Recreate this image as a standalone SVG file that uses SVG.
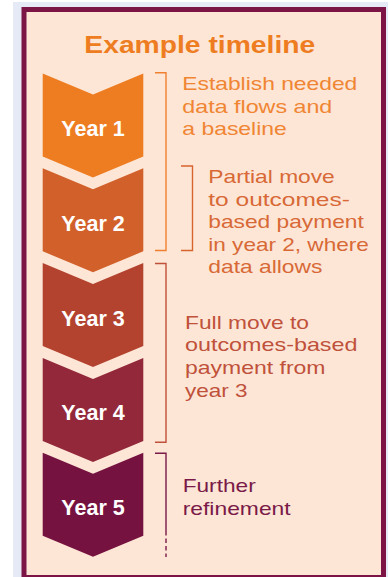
<svg xmlns="http://www.w3.org/2000/svg" width="388" height="577" viewBox="0 0 388 577">
  <defs>
    <style>
      .yr { font-family: "Liberation Sans", Arial, sans-serif; font-weight: bold; font-size: 21.5px; fill: #ffffff; text-anchor: middle; }
      .title { font-family: "Liberation Sans", Arial, sans-serif; font-weight: bold; font-size: 24.5px; fill: #ee7d22; }
      .note { font-family: "Liberation Sans", Arial, sans-serif; font-size: 18.5px; }
      .br { fill: none; stroke-width: 1.4; }
    </style>
    <!-- chevron shape, top corners at y=0 -->
    <path id="chev" d="M42.7,0 L93,21 L143.3,0 L143.3,83 L93,104 L42.7,83 Z"/>
  </defs>

  <!-- page background -->
  <rect x="0" y="0" width="388" height="577" fill="#ffffff"/>
  <rect x="13" y="2" width="375" height="575" fill="#e6eaf6"/>

  <!-- panel -->
  <rect x="24" y="9.5" width="359.5" height="568" fill="#fde6d6" stroke="#7d1446" stroke-width="5"/>

  <text class="title" x="84.3" y="52.7" textLength="231" lengthAdjust="spacingAndGlyphs">Example timeline</text>

  <!-- year chevrons -->
  <g id="year1">
    <use href="#chev" y="73.5" fill="#ee7d22"/>
    <text class="yr" x="93" y="136">Year 1</text>
  </g>
  <g id="year2">
    <use href="#chev" y="168.3" fill="#d2602a"/>
    <text class="yr" x="93" y="230.8">Year 2</text>
  </g>
  <g id="year3">
    <use href="#chev" y="263.1" fill="#b3422f"/>
    <text class="yr" x="93" y="325.6">Year 3</text>
  </g>
  <g id="year4">
    <use href="#chev" y="357.9" fill="#93283a"/>
    <text class="yr" x="93" y="420.4">Year 4</text>
  </g>
  <g id="year5">
    <use href="#chev" y="452.7" fill="#76123f"/>
    <text class="yr" x="93" y="515.2">Year 5</text>
  </g>

  <!-- brackets spanning the years each note applies to -->
  <g id="brackets">
    <path class="br" stroke="#f08030" d="M155,72.7 H166 V250.5 H155"/>
    <path class="br" stroke="#d6642e" d="M181,166 H192.5 V250.5 H181"/>
    <path class="br" stroke="#c0503a" d="M155,263.5 H166 V442.3 H155"/>
    <path class="br" stroke="#7a1a48" d="M155,453.3 H166 V531"/>
    <path class="br" stroke="#7a1a48" stroke-dasharray="4.5 3" d="M166,531 V557"/>
  </g>

  <!-- notes -->
  <g id="note1" class="note" fill="#f08534">
    <text x="182.3" y="90" textLength="175" lengthAdjust="spacingAndGlyphs">Establish needed</text>
    <text x="182.3" y="112.5" textLength="150" lengthAdjust="spacingAndGlyphs">data flows and</text>
    <text x="182.3" y="135" textLength="104.5" lengthAdjust="spacingAndGlyphs">a baseline</text>
  </g>
  <g id="note2" class="note" fill="#d86936">
    <text x="208.3" y="183.3" textLength="126.5" lengthAdjust="spacingAndGlyphs">Partial move</text>
    <text x="208.3" y="205.5" textLength="141.5" lengthAdjust="spacingAndGlyphs">to outcomes-</text>
    <text x="208.3" y="228" textLength="155.5" lengthAdjust="spacingAndGlyphs">based payment</text>
    <text x="208.3" y="250.5" textLength="160.5" lengthAdjust="spacingAndGlyphs">in year 2, where</text>
    <text x="208.3" y="273" textLength="114" lengthAdjust="spacingAndGlyphs">data allows</text>
  </g>
  <g id="note3" class="note" fill="#c0513b">
    <text x="185" y="328.5" textLength="124" lengthAdjust="spacingAndGlyphs">Full move to</text>
    <text x="185" y="351.2" textLength="172.5" lengthAdjust="spacingAndGlyphs">outcomes-based</text>
    <text x="185" y="374" textLength="140.5" lengthAdjust="spacingAndGlyphs">payment from</text>
    <text x="185" y="396.7" textLength="62.5" lengthAdjust="spacingAndGlyphs">year 3</text>
  </g>
  <g id="note4" class="note" fill="#7a1a48">
    <text x="182.7" y="491.7" textLength="73" lengthAdjust="spacingAndGlyphs">Further</text>
    <text x="182.7" y="515" textLength="108" lengthAdjust="spacingAndGlyphs">refinement</text>
  </g>
</svg>
